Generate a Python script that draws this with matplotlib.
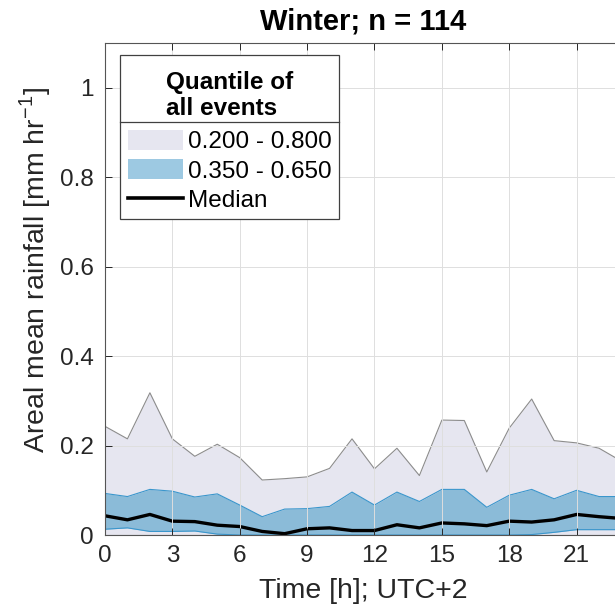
import numpy as np
import matplotlib
matplotlib.use('Agg')
import matplotlib.pyplot as plt
from matplotlib.patches import Patch
from matplotlib.lines import Line2D
from matplotlib.offsetbox import VPacker

plt.rcParams['font.family'] = ['Liberation Sans', 'DejaVu Sans']

hours = list(range(24))
q20 = [0.0] * 24
q35 = [0.013, 0.016, 0.008, 0.008, 0.009, 0.002, 0.0, 0.0, 0.0, 0.0, 0.0, 0.0,
       0.0, 0.0, 0.0, 0.0, 0.0, 0.0, 0.0, 0.001, 0.006, 0.012, 0.012, 0.012]
median = [0.043, 0.034, 0.046, 0.031, 0.030, 0.022, 0.019, 0.008, 0.003, 0.014, 0.016, 0.010,
          0.010, 0.023, 0.016, 0.027, 0.025, 0.021, 0.031, 0.029, 0.034, 0.046, 0.041, 0.037]
q65 = [0.093, 0.086, 0.102, 0.098, 0.085, 0.092, 0.067, 0.041, 0.058, 0.059, 0.064, 0.096,
       0.067, 0.096, 0.075, 0.102, 0.102, 0.062, 0.089, 0.102, 0.081, 0.100, 0.086, 0.086]
q80 = [0.243, 0.215, 0.318, 0.215, 0.176, 0.203, 0.173, 0.123, 0.126, 0.130, 0.149, 0.215,
       0.148, 0.194, 0.133, 0.257, 0.256, 0.141, 0.239, 0.304, 0.211, 0.206, 0.194, 0.165]

xticks = [0, 3, 6, 9, 12, 15, 18, 21]
yticks = [0, 0.2, 0.4, 0.6, 0.8, 1]
ytick_labels = ['0', '0.2', '0.4', '0.6', '0.8', '1']

lav = '#e6e6f0'
blue = '#8bbbd8'

fig = plt.figure(figsize=(6.15, 6.13), dpi=100)
ax = fig.add_axes([0.1707, 0.1272, 0.8399, 0.8027])

ax.fill_between(hours, q20, q80, color=lav, lw=0)
ax.plot(hours, q80, color='#8c8c8c', lw=0.8)
ax.plot(hours, q20, color='#8c8c8c', lw=0.8)
ax.fill_between(hours, q35, q65, color=blue, lw=0)
ax.plot(hours, q65, color='#3a96cc', lw=0.8)
ax.plot(hours, q35, color='#3a96cc', lw=0.8)
ax.plot(hours, median, color='black', lw=2.4)

ax.set_xlim(0, 23)
ax.set_ylim(0, 1.1)
ax.set_xticks(xticks)
ax.set_yticks(yticks)
ax.set_yticklabels(ytick_labels)
ax.grid(True, color='#dedede', lw=0.7)
ax.set_axisbelow(False)
for gl in ax.get_xgridlines() + ax.get_ygridlines():
    gl.set_zorder(0.5)
ax.tick_params(direction='in', top=True, right=True, labelsize=17.5, colors='#262626',
               length=5, width=0.7)
ax.tick_params(axis='x', pad=7)
ax.tick_params(axis='y', pad=8)
for s in ax.spines.values():
    s.set_color('#555555')
    s.set_linewidth(0.8)
    s.set_zorder(5)

ax.set_xlabel('Time [h]; UTC+2', fontsize=20.5, color='#262626', labelpad=8)
ax.set_ylabel('Areal mean rainfall [mm hr$^{\\mathregular{-1}}$]', fontsize=20.5,
              color='#262626')
ax.yaxis.set_label_coords(-0.101, 0.539)
ax.set_title('Winter; n = 114', fontsize=21, fontweight='bold', pad=9.5)

handles = [Patch(facecolor=lav, edgecolor='none'),
           Patch(facecolor='#9dc9e2', edgecolor='none'),
           Line2D([0], [0], color='black', lw=2.6)]
labels = ['0.200 - 0.800', '0.350 - 0.650', 'Median']
leg = ax.legend(handles, labels, title='Quantile of\nall events', loc='upper left',
                bbox_to_anchor=(0.030, 0.9756), fontsize=17.5, title_fontsize=17.5,
                frameon=True, fancybox=False, edgecolor='#404040', framealpha=1,
                handlelength=2.26, handleheight=0.9, handletextpad=0.2,
                borderpad=0.3, labelspacing=0.24, borderaxespad=0)
leg.get_title().set_fontweight('bold')
leg.get_frame().set_linewidth(0.9)
leg.set_zorder(10)
# extra room around the legend title, like the boxed title in the original
box = leg._legend_box
box._children[0] = VPacker(pad=6, sep=0, children=[leg._legend_title_box])
box.sep = 1

# separator line under the legend title
fig.canvas.draw()
r = fig.canvas.get_renderer()
fb = leg.get_frame().get_window_extent(r)
tb = leg.get_title().get_window_extent(r)
ysep = tb.y0 - 2
inv = fig.transFigure.inverted()
(x0, y0), (x1, _) = inv.transform([(fb.x0, ysep), (fb.x1, ysep)])
fig.add_artist(Line2D([x0, x1], [y0, y0], color='#404040', lw=0.9, zorder=20))

fig.savefig('out.png', dpi=100)
